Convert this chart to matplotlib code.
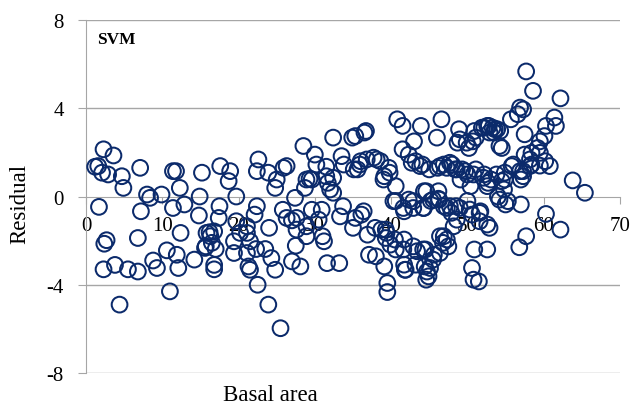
import matplotlib
matplotlib.use('Agg')
import matplotlib.pyplot as plt

plt.rcParams['font.family'] = ['Liberation Serif', 'DejaVu Serif']
plt.rcParams['axes.unicode_minus'] = False

# residuals, (basal area, residual)
pts_low = [
    (1.2, 1.35), (1.6, 1.38), (2.1, 1.08), (2.3, 2.14), (2.9, 1.0), (3.6, 1.86), (4.7, 0.92),
    (4.9, 0.39), (7.1, 1.3), (1.7, -0.47), (7.2, -0.67), (8.0, 0.09), (8.4, -0.06), (9.9, 0.09),
    (11.4, 1.15), (11.8, 1.15), (12.3, 0.39), (14.9, 0.0), (15.2, 1.08), (11.4, -0.52),
    (12.9, -0.36), (14.8, -0.86), (2.7, -1.98), (2.4, -2.14), (6.8, -1.88), (2.3, -3.3),
    (3.8, -3.1), (5.5, -3.3), (6.8, -3.4), (4.4, -4.9), (8.8, -2.9), (9.3, -3.24), (10.6, -2.44),
    (11.9, -2.64), (12.1, -3.24), (12.4, -1.65), (11.0, -4.3), (14.2, -2.86), (15.7, -2.26),
    (16.2, -1.62), (16.8, -1.58), (16.5, -2.1), (17.0, -2.38), (16.8, -3.1), (16.8, -3.3),
    (17.5, -0.44), (17.4, -0.97), (17.6, 1.38), (15.8, -1.65), (16.3, -1.8), (15.6, -2.33),
]

pts_mid = [
    (18.9, 1.15), (18.7, 0.7), (19.7, 0.0), (22.6, 1.68), (22.4, 1.15), (23.9, 1.08), (25.9, 1.3),
    (25.0, 0.77), (24.8, 0.39), (27.4, -0.06), (28.5, 2.29), (28.7, 0.39), (29.3, 0.8), (30.0, 1.9),
    (30.2, 1.45), (31.5, 1.35), (32.4, 2.67), (34.9, 2.67), (36.5, 2.9), (33.5, 1.83), (33.8, 1.45),
    (35.1, 1.23), (35.9, 1.45), (32.4, 0.85), (31.7, 0.62), (32.0, 0.32), (29.6, 0.77), (26.3, 1.38),
    (31.5, 0.92), (28.9, 0.77), (32.4, 0.17), (36.8, 1.68),
    (22.4, -0.44), (22.1, -0.82), (25.8, -0.6), (26.3, -0.97), (27.0, -1.08), (27.6, -0.97),
    (29.6, -0.6), (30.9, -0.6), (30.5, -1.05), (24.0, -1.42), (21.1, -1.65), (21.5, -2.03),
    (19.4, -2.03), (19.4, -2.56), (21.1, -2.56), (22.3, -2.38), (23.5, -2.38), (24.3, -2.79),
    (24.8, -3.32), (21.3, -3.17), (21.5, -3.32), (27.5, -2.23), (27.0, -2.94), (28.1, -3.17),
    (31.0, -1.8), (31.2, -2.03), (31.6, -3.02), (33.2, -3.02), (22.5, -4.0), (23.9, -4.9),
    (25.5, -5.97), (33.7, -0.44), (33.3, -0.9), (35.0, -1.42), (19.7, -1.12), (20.2, -1.65),
    (21.1, -1.35), (27.6, -1.5), (28.9, -1.35), (28.9, -1.8), (36.1, -0.82), (37.9, -1.42),
    (38.7, -1.5),
]

pts_high = [
    (36.7, 2.97), (35.3, 2.74), (40.8, 3.5), (41.5, 3.2), (43.9, 3.2), (46.6, 3.5), (46.0, 2.67),
    (48.9, 3.05), (48.7, 2.44), (50.2, 2.2), (51.1, 2.67), (51.9, 3.12), (52.6, 3.2), (52.9, 2.9),
    (50.9, 2.97), (43.0, 2.5), (41.5, 2.14), (42.3, 1.9), (43.2, 1.6), (44.1, 1.45), (45.0, 1.23),
    (46.1, 1.3), (46.9, 1.45), (48.0, 1.45), (49.3, 1.23), (50.0, 1.0), (51.1, 1.23), (52.2, 1.0),
    (52.6, 0.47), (49.1, 0.77), (50.4, 0.47), (37.7, 1.76), (38.6, 1.6), (39.7, 1.3), (36.0, 1.6),
    (35.6, 1.23), (39.1, 0.92), (40.6, 0.47), (38.1, 1.68), (39.0, 0.77), (39.8, 1.08),
    (40.6, -0.2), (42.3, -0.14), (44.3, 0.24), (45.2, -0.2), (46.3, -0.14), (46.9, -0.44),
    (44.3, -0.52), (41.7, -0.67), (42.9, -0.52), (48.5, -0.44), (50.0, -0.2), (50.6, -0.82),
    (51.7, -0.67), (52.6, -1.27), (48.2, -1.35), (36.4, -0.67), (35.3, -0.97), (36.9, -1.73),
    (39.3, -1.5), (39.3, -1.88), (39.9, -2.18), (40.6, -2.4), (41.7, -1.95), (43.4, -2.48),
    (44.5, -2.4), (45.6, -2.64), (46.9, -1.8), (46.8, -2.1), (37.1, -2.64), (38.0, -2.71),
    (39.1, -3.17), (41.7, -3.09), (41.9, -3.32), (43.2, -3.09), (44.7, -3.4), (45.1, -3.24),
    (44.9, -3.62), (39.5, -3.92), (39.5, -4.33), (50.9, -2.4), (52.6, -2.4), (50.6, -3.24),
    (50.8, -3.77), (51.5, -3.85),
    (52.2, 3.12), (52.8, 3.2), (53.3, 3.12), (53.9, 3.05), (53.5, 2.9), (54.3, 2.97), (49.0, 2.59),
    (49.9, 2.44), (50.7, 2.5), (54.5, 2.2), (47.3, 1.3), (48.4, 1.23), (49.7, 1.15), (50.8, 1.0),
    (52.1, 0.85), (52.7, 0.62), (53.8, 1.0), (54.9, 0.77), (47.7, -0.44), (49.0, -0.52),
    (50.3, -0.59), (51.6, -0.74), (54.2, -0.14), (55.0, -0.36), (42.7, 1.53), (43.8, 1.38),
    (46.4, 1.38), (47.7, 1.53), (48.6, 1.23), (40.3, -0.21), (41.6, -0.52), (42.9, -0.21),
    (44.2, -0.52), (45.5, -0.14), (46.2, -0.1), (47.3, -0.52), (47.9, -0.74), (44.6, 0.24),
    (46.2, 0.24), (39.4, -1.65), (40.5, -1.95), (41.6, -2.4), (42.9, -2.26), (44.2, -2.4),
    (45.5, -2.86), (46.4, -1.8), (47.5, -2.26), (41.8, -3.32), (44.6, -3.77), (44.4, -3.17),
    (51.6, -1.12), (48.6, -1.05), (46.4, -2.56), (47.3, -1.95),
]

pts_end = [
    (57.7, 5.67), (58.6, 4.79), (62.2, 4.45), (57.3, 3.95), (56.6, 3.73), (55.7, 3.5), (57.5, 2.82),
    (61.4, 3.58), (61.6, 3.2), (60.3, 3.2), (60.1, 2.74), (59.5, 2.5), (59.2, 2.2), (58.4, 1.98),
    (57.5, 1.9), (54.2, 2.29), (53.6, 3.05), (60.8, 1.38), (58.2, 1.38), (57.3, 1.15), (56.0, 1.45),
    (57.0, 0.77), (54.9, 1.08), (54.5, 0.7), (53.1, 0.77), (54.8, 0.32), (54.0, 0.0), (55.3, -0.21),
    (57.0, -0.36), (63.8, 0.73), (65.4, 0.17), (60.3, -0.79), (62.2, -1.5), (57.7, -1.8),
    (56.8, -2.3), (52.9, -1.42), (58.2, 1.68), (59.5, 1.4), (60.2, 1.6), (55.8, 1.38), (56.9, 1.15),
    (56.9, 4.03), (58.4, 1.45), (57.3, 0.92), (59.5, 1.98),
]

all_pts = pts_low + pts_mid + pts_high + pts_end
basal_area = [p[0] for p in all_pts]
residual = [p[1] for p in all_pts]

grid_col = '#a6a6a6'
navy = '#0b2a6b'

fig = plt.figure(figsize=(6.3, 4.06), dpi=100)
ax = fig.add_axes([0.1365, 0.0788, 0.8476, 0.8694])

ax.scatter(basal_area, residual, s=128, facecolors='none', edgecolors=navy,
           linewidths=1.45, zorder=3)

ax.set_xlim(0, 70)
ax.set_ylim(-8, 8)
ax.set_xticks(range(0, 71, 10))
ax.set_yticks([-8, -4, 0, 4, 8])

for yv in [-8, -4, 4, 8]:
    ax.axhline(yv, color=grid_col, lw=1.0, zorder=1)

ax.spines['top'].set_visible(False)
ax.spines['right'].set_visible(False)
ax.spines['bottom'].set_position(('data', 0))
ax.spines['bottom'].set_color(grid_col)
ax.spines['left'].set_color(grid_col)
ax.spines['bottom'].set_zorder(2)

ax.tick_params(axis='x', direction='out', length=5, color=grid_col, labelsize=15, pad=9)
ax.tick_params(axis='y', direction='out', length=6, color=grid_col, labelsize=15, pad=10)

ax.text(0.02, 0.946, 'SVM', transform=ax.transAxes, fontsize=12.5, fontweight='bold',
        ha='left', va='center')

fig.text(270 / 630, 1 - 396 / 406, 'Basal area', ha='center', va='center', fontsize=16.5)
fig.text(20 / 630, 1 - 204 / 406, 'Residual', ha='center', va='center', fontsize=16.5,
         rotation=90)

fig.savefig('out.png', dpi=100)
